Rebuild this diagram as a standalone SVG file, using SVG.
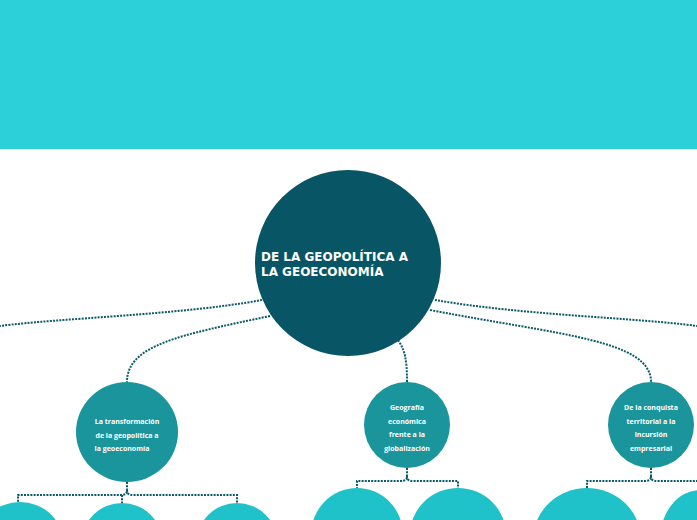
<svg xmlns="http://www.w3.org/2000/svg" width="697" height="520" viewBox="0 0 697 520">
<style>
.c{fill:none;stroke:#0a5a6a;stroke-width:2;stroke-dasharray:2 1.2}
.s{fill:#1a959c}
.l{fill:#1fc2c9}
.t{font-family:"Open Sans","DejaVu Sans",sans-serif;font-size:7px;font-weight:bold;fill:#fff;text-anchor:middle}
</style>
<rect width="697" height="149" fill="#2bd0d8"/>
<rect y="149" width="697" height="371" fill="#fff"/>
<g id="connectors">
<path class="c" d="M262,300 C180,315 60,318 0,326"/>
<path class="c" d="M435,300 C520,315 640,318 697,326"/>
<path class="c" d="M270,316 C180,335 127,345 127,382"/>
<path class="c" d="M398,340 C405,350 407,360 407,382"/>
<path class="c" d="M430,310 C560,335 651,340 651,382"/>
<path class="c" d="M127,482 V490 C127,494 125,495 120,495 H18 V503 M127,490 C127,494 129,495 134,495 H237 V503 M122,495 V503"/>
<path class="c" d="M407,468 V476 C407,480 405,481 400,481 H357 V488 M407,476 C407,480 409,481 414,481 H458 V488"/>
<path class="c" d="M651,468 V476 C651,480 649,481 644,481 H587 V488 M651,476 C651,480 653,481 658,481 H697"/>
</g>
<g id="main"><circle cx="348" cy="263" r="93" fill="#075565"/>
<text x="261" y="261" font-family="'DejaVu Sans',sans-serif" font-size="12" font-weight="bold" fill="#fff">DE LA GEOPOLÍTICA A</text>
<text x="261" y="276" font-family="'DejaVu Sans',sans-serif" font-size="12" font-weight="bold" fill="#fff">LA GEOECONOMÍA</text></g>
<g id="n1"><ellipse class="s" cx="127" cy="432" rx="51" ry="50"/>
<text class="t"><tspan x="127" y="424">La transformación</tspan><tspan x="127" y="438">de la geopolítica a</tspan><tspan x="122" y="451">la geoeconomía</tspan></text></g>
<g id="n2"><ellipse class="s" cx="407" cy="425" rx="43" ry="43"/>
<text class="t"><tspan x="407" y="410">Geografía</tspan><tspan x="407" y="424">económica</tspan><tspan x="407" y="437">frente a la</tspan><tspan x="407" y="451">globalización</tspan></text></g>
<g id="n3"><ellipse class="s" cx="651" cy="425" rx="43" ry="43"/>
<text class="t"><tspan x="651" y="410">De la conquista</tspan><tspan x="651" y="424">territorial a la</tspan><tspan x="651" y="437">incursión</tspan><tspan x="651" y="451">empresarial</tspan></text></g>
<g id="b1"><ellipse class="l" cx="20" cy="540" rx="42" ry="38"/></g>
<g id="b2"><ellipse class="l" cx="122" cy="542" rx="40" ry="39"/></g>
<g id="b3"><ellipse class="l" cx="237" cy="542" rx="40" ry="39"/></g>
<g id="b4"><ellipse class="l" cx="357" cy="535" rx="46" ry="47"/></g>
<g id="b5"><ellipse class="l" cx="458" cy="535" rx="48" ry="47"/></g>
<g id="b6"><ellipse class="l" cx="587" cy="540" rx="54" ry="52"/></g>
<g id="b7"><ellipse class="l" cx="700" cy="540" rx="40" ry="50"/></g>
</svg>
